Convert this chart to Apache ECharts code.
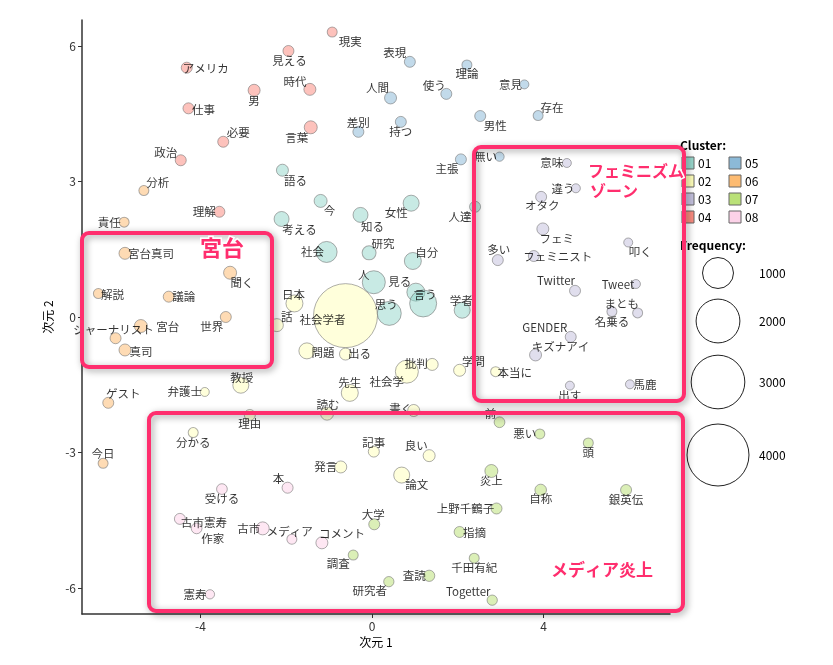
<!DOCTYPE html>
<html><head><meta charset="utf-8">
<script src="https://cdn.jsdelivr.net/npm/echarts@6/dist/echarts.min.js"></script>
<style>html,body{margin:0;padding:0;background:#fff}#main{width:833px;height:665px}</style>
</head><body><div id="main"></div>
<script>
// ---- data: [word, dim1, dim2, frequency] ----
const clusterNames = ['01','02','03','04','05','06','07','08'];
const cluster01 = [
 ['語る',-2.09,3.25,150],['今',-1.20,2.57,176],['考える',-2.11,2.17,234],['知る',-0.27,2.26,234],
 ['女性',0.91,2.52,267],['人達',2.40,2.44,126],['社会',-1.06,1.44,459],['研究',-0.07,1.42,204],
 ['自分',0.95,1.24,301],['人',0.04,0.77,551],['見る',1.02,0.55,337],['言う',1.19,0.30,759],
 ['思う',0.40,0.08,600],['学者',2.10,0.15,267]];
const cluster02 = [
 ['社会学者',-0.62,0.03,4265],['日本',-1.81,0.30,301],['話',-2.22,-0.18,176],['問題',-1.52,-0.75,267],
 ['出る',-0.62,-0.82,150],['社会学',0.81,-1.21,551],['批判',1.40,-1.05,150],['学問',2.04,-1.18,150],
 ['本当に',2.88,-1.21,104],['教授',-3.06,-1.51,267],['弁護士',-3.90,-1.66,84],['先生',-0.52,-1.68,301],
 ['読む',-1.05,-2.14,176],['書く',0.97,-2.07,150],['理由',-2.85,-2.17,126],['分かる',-4.17,-2.56,104],
 ['記事',0.04,-2.98,126],['良い',1.33,-3.07,150],['発言',-0.73,-3.32,150],['論文',0.69,-3.50,267]];
const cluster03 = [
 ['意味',4.54,3.41,84],['違う',4.75,2.85,84],['オタク',3.94,2.66,126],['フェミ',3.98,1.95,150],
 ['叩く',5.97,1.65,84],['多い',2.93,1.26,126],['フェミニスト',3.77,1.35,126],['Twitter',4.73,0.58,126],
 ['Tweet',6.15,0.73,84],['まとも',6.19,0.09,104],['名乗る',5.59,0.12,104],['GENDER',4.63,-0.44,126],
 ['キズナアイ',3.81,-0.84,150],['出す',4.61,-1.52,84],['馬鹿',6.01,-1.49,84]];
const cluster04 = [
 ['現実',-0.93,6.31,104],['見える',-1.95,5.89,126],['アメリカ',-4.32,5.52,126],['時代',-1.45,5.04,150],
 ['男',-2.75,5.02,150],['仕事',-4.28,4.62,126],['言葉',-1.43,4.20,176],['必要',-3.47,3.88,126],
 ['政治',-4.46,3.47,126],['理解',-3.56,2.33,126]];
const cluster05 = [
 ['差別',-0.32,4.10,126],['表現',0.88,5.65,126],['理論',2.21,5.58,104],['人間',0.43,4.85,150],
 ['使う',1.73,4.94,126],['意見',3.55,5.15,84],['持つ',0.67,4.32,126],['男性',2.52,4.45,126],
 ['存在',3.87,4.46,104],['主張',2.07,3.49,126],['無い',2.97,3.55,90]];
const cluster06 = [
 ['分析',-5.32,2.80,104],['責任',-5.78,2.10,104],['宮台真司',-5.76,1.41,150],['聞く',-3.31,0.98,176],
 ['解説',-6.38,0.52,104],['議論',-4.74,0.45,126],['世界',-3.41,0.00,126],['宮台',-5.39,-0.20,176],
 ['ジャーナリスト',-5.98,-0.47,126],['真司',-5.76,-0.73,150],['ゲスト',-6.15,-1.90,126],['今日',-6.27,-3.24,104]];
const cluster07 = [
 ['前',2.97,-2.33,120],['悪い',3.91,-2.59,104],['頭',5.04,-2.79,104],['炎上',2.78,-3.41,176],
 ['自称',3.93,-3.83,140],['銀英伝',5.92,-3.83,126],['上野千鶴子',2.90,-4.24,126],['大学',0.05,-4.59,126],
 ['指摘',2.04,-4.76,126],['調査',-0.44,-5.27,104],['千田有紀',2.38,-5.34,104],['査読',1.33,-5.73,132],
 ['研究者',0.39,-5.86,110],['Togetter',2.80,-6.27,110]];
const cluster08 = [
 ['本',-1.97,-3.78,126],['受ける',-3.50,-3.81,120],['古市憲寿',-4.48,-4.47,126],['作家',-4.09,-4.68,120],
 ['古市',-2.55,-4.68,176],['メディア',-1.87,-4.92,104],['コメント',-1.17,-5.00,150],['憲寿',-3.78,-6.14,90]];
const xTicks = [-4, 0, 4];
const yTicks = [-6, -3, 0, 3, 6];
const sizeLegendValues = [1000, 2000, 3000, 4000];

// ---- layout / style (label nudges in pixels) ----
const labelOffsets = {
 '現実':[18,10],'見える':[1,10],'アメリカ':[19,1],'時代':[-15,-8],'男':[0,10],'仕事':[15,1],'言葉':[-14,10],
 '必要':[15,-9],'政治':[-15,-8],'理解':[-15,0],
 '分析':[14,-8],'責任':[-15,0],'宮台真司':[26,0],'聞く':[12,10],'解説':[14,1],'議論':[15,0],'世界':[-14,10],
 '宮台':[27,1],'ジャーナリスト':[-2,-9],'真司':[16,2],'ゲスト':[15,-9],'今日':[0,-10],
 '語る':[13,10],'今':[9,10],'考える':[18,11],'知る':[12,12],'女性':[-15,9],'人達':[-15,10],'社会':[-14,0],
 '研究':[14,-9],'自分':[14,-8],'人':[-10,-8],'見る':[-16,-11],'言う':[2,-9],'思う':[-3,-9],'学者':[-1,-10],
 '差別':[0,-9],'表現':[-15,-9],'理論':[0,9],'人間':[-13,-10],'使う':[-12,-8],'意見':[-14,0],'持つ':[0,10],
 '男性':[15,10],'存在':[14,-8],'主張':[-14,9],'無い':[-14,0],
 '意味':[-15,0],'違う':[-13,0],'オタク':[1,9],'フェミ':[14,10],'叩く':[12,9],'多い':[1,-10],'フェミニスト':[24,1],
 'Twitter':[-19,-10],'Tweet':[-18,1],'まとも':[-16,-9],'名乗る':[0,10],'GENDER':[-26,-9],'キズナアイ':[25,-8],
 '出す':[0,10],'馬鹿':[15,0],
 '社会学者':[-23,4],'日本':[-1,-9],'話':[10,-9],'問題':[16,2],'出る':[14,0],'社会学':[-20,10],'批判':[-16,-1],
 '学問':[14,-9],'本当に':[19,1],'教授':[1,-8],'弁護士':[-20,0],'先生':[0,-10],'読む':[1,-9],'書く':[-13,-2],
 '理由':[0,9],'分かる':[0,10],'記事':[0,-9],'良い':[-13,-10],'発言':[-15,0],'論文':[15,10],
 '前':[-9,-9],'悪い':[-15,0],'頭':[0,10],'炎上':[0,10],'自称':[0,9],'銀英伝':[0,10],'上野千鶴子':[-31,0],
 '大学':[-1,-10],'指摘':[15,1],'調査':[-15,9],'千田有紀':[0,9],'査読':[-15,0],'研究者':[-19,9],'Togetter':[-24,-9],
 '本':[-9,-9],'受ける':[0,10],'古市憲寿':[24,4],'作家':[16,10],'古市':[-14,0],'メディア':[-2,-8],'コメント':[20,-9],'憲寿':[-15,0]
};
const clusterColors = ['#8DD3C7','#FFFFB3','#BEBADA','#FB8072','#80B1D3','#FDB462','#B3DE69','#FCCDE5'];
const FONT = '"Noto Sans CJK JP", "Noto Sans", sans-serif';
const PINK = '#FF2E6E';
const sizeOf = f => 0.98 * Math.sqrt(f);

function rgba(hex, a){
  const n = parseInt(hex.slice(1),16);
  return 'rgba(' + ((n>>16)&255) + ',' + ((n>>8)&255) + ',' + (n&255) + ',' + a + ')';
}

const clusters = [cluster01,cluster02,cluster03,cluster04,cluster05,cluster06,cluster07,cluster08];
const series = clusters.map((rows, i) => ({
  type: 'scatter',
  name: clusterNames[i],
  data: rows.map(r => ({ name: r[0], value: [r[1], r[2], r[3]], label: { offset: labelOffsets[r[0]] || [0,0] } })),
  symbolSize: v => sizeOf(v[2]),
  itemStyle: { color: rgba(clusterColors[i], 0.6), borderColor: 'rgba(110,110,110,0.7)', borderWidth: 1 },
  label: { show: true, position: 'inside', formatter: '{b}', color: '#000', fontSize: 11.5, fontFamily: FONT },
  emphasis: { disabled: true },
  z: 2
}));

// ---- legend (graphic) ----
const graphics = [];
graphics.push({ type:'text', x:680, y:145, z:50, style:{ text:'Cluster:', font:'bold 12px ' + FONT, fill:'#000', textAlign:'left', textVerticalAlign:'middle' }});
clusterNames.forEach((nm, i) => {
  const col = Math.floor(i/4), row = i % 4;
  const kx = 682 + col*47, ky = 163 + row*18;
  graphics.push({ type:'rect', z:50, shape:{ x:kx, y:ky-6, width:12, height:12 }, style:{ fill: rgba(clusterColors[i],0.9), stroke:'#666', lineWidth:1 }});
  graphics.push({ type:'text', z:50, x:kx+16, y:ky, style:{ text:nm, font:'12px ' + FONT, fill:'#000', textAlign:'left', textVerticalAlign:'middle' }});
});
graphics.push({ type:'text', x:680, y:245, z:50, style:{ text:'Frequency:', font:'bold 12px ' + FONT, fill:'#000', textAlign:'left', textVerticalAlign:'middle' }});
const sizeRowY = [273, 321, 382, 455];
sizeLegendValues.forEach((v, i) => {
  graphics.push({ type:'circle', z:50, shape:{ cx:718, cy:sizeRowY[i], r: sizeOf(v)/2 }, style:{ fill:'none', stroke:'#222', lineWidth:1 }});
  graphics.push({ type:'text', z:50, x:759, y:sizeRowY[i], style:{ text:String(v), font:'12px ' + FONT, fill:'#000', textAlign:'left', textVerticalAlign:'middle' }});
});

// ---- annotation boxes ----
const boxStyle = { fill:'none', stroke:PINK, lineWidth:4, shadowBlur:7, shadowColor:'rgba(0,0,0,0.4)', shadowOffsetX:2, shadowOffsetY:2 };
[[82,233,190,134],[474,147,210,254],[149,413,534,198]].forEach(b => {
  graphics.push({ type:'rect', z:60, shape:{ x:b[0], y:b[1], width:b[2], height:b[3], r:7 }, style: Object.assign({}, boxStyle) });
});
function note(text, x, y, size, align){
  return { type:'text', z:70, x:x, y:y, style:{ text:text, font:'bold ' + size + 'px ' + FONT, fill:PINK, stroke:'#fff', lineWidth:3,
    textAlign: align || 'center', textVerticalAlign:'middle', shadowBlur:4, shadowColor:'rgba(0,0,0,0.35)', shadowOffsetX:1, shadowOffsetY:1 }};
}
graphics.push(note('宮台', 222, 248, 22));
graphics.push(note('フェミニズム', 588, 171, 16, 'left'));
graphics.push(note('ゾーン', 590, 191, 16, 'left'));
graphics.push(note('メディア炎上', 602, 570, 17));

const option = {
  animation: false,
  backgroundColor: '#fff',
  grid: { left: 82, right: 163, top: 20, bottom: 51 },
  xAxis: {
    type: 'value', min: -6.762, max: 6.944,
    axisLine: { show: true, onZero: false, lineStyle: { color: '#333', width: 1.5 } },
    axisTick: { show: true, length: 4, customValues: xTicks, lineStyle: { color: '#333' } },
    axisLabel: { customValues: xTicks, color: '#333', fontSize: 12, margin: 6, fontFamily: FONT },
    splitLine: { show: false },
    name: '次元 1', nameLocation: 'middle', nameGap: 20,
    nameTextStyle: { color: '#000', fontSize: 12, fontFamily: FONT }
  },
  yAxis: {
    type: 'value', min: -6.576, max: 6.576,
    axisLine: { show: true, onZero: false, lineStyle: { color: '#333', width: 1.5 } },
    axisTick: { show: true, length: 4, customValues: yTicks, lineStyle: { color: '#333' } },
    axisLabel: { customValues: yTicks, color: '#333', fontSize: 12, margin: 6, fontFamily: FONT },
    splitLine: { show: false },
    name: '次元 2', nameLocation: 'middle', nameGap: 18,
    nameTextStyle: { color: '#000', fontSize: 12, fontFamily: FONT }
  },
  series: series,
  graphic: graphics
};
const chart = echarts.init(document.getElementById('main'));
chart.setOption(option);
</script>
</body></html>
